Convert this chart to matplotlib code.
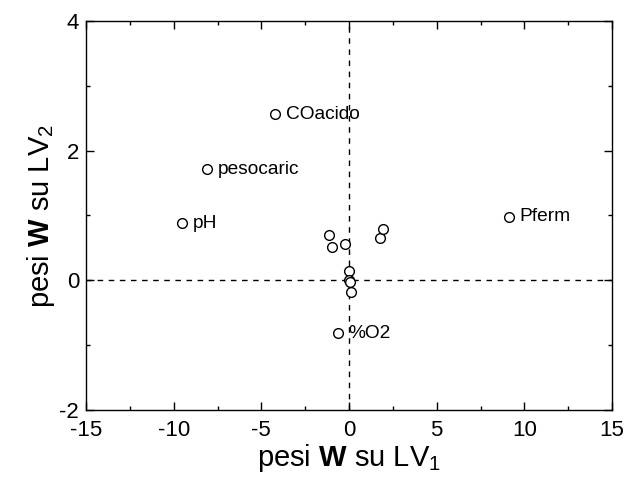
import matplotlib
matplotlib.use("Agg")
import matplotlib.pyplot as plt

plt.rcParams["font.family"] = "Liberation Sans"
plt.rcParams["mathtext.fontset"] = "custom"
plt.rcParams["mathtext.rm"] = "Liberation Sans"
plt.rcParams["mathtext.bf"] = "Liberation Sans:bold"
plt.rcParams["axes.unicode_minus"] = False

# loadings on LV1 / LV2
w1 = [-4.2, -8.1, -9.55, 9.1, -0.65, -1.15, -0.95, -0.25, 1.75, 1.95, 0.0, 0.0, 0.05, 0.1]
w2 = [2.56, 1.71, 0.88, 0.98, -0.82, 0.70, 0.51, 0.56, 0.66, 0.79, 0.15, 0.0, -0.03, -0.18]
names = ["COacido", "pesocaric", "pH", "Pferm", "%O2", "", "", "", "", "", "", "", "", ""]

fig = plt.figure(figsize=(6.25, 4.86), dpi=100)
ax = fig.add_axes([0.1376, 0.1564, 0.8416, 0.8004])

ax.axhline(0, color="black", ls=(0, (4, 4)), lw=1, zorder=1)
ax.axvline(0, color="black", ls=(0, (4, 4)), lw=1, zorder=1)
ax.plot(w1, w2, "o", ms=7, mfc="white", mec="black", mew=1, zorder=3)

for x, y, n in zip(w1, w2, names):
    if n:
        ax.annotate(n, (x, y), xytext=(8, 0), textcoords="offset points",
                    va="center", ha="left", fontsize=13.8)

ax.set_xlim(-15, 15)
ax.set_ylim(-2, 4)
ax.set_xticks([-15, -10, -5, 0, 5, 10, 15])
ax.set_xticks([-12.5, -7.5, -2.5, 2.5, 7.5, 12.5], minor=True)
ax.set_yticks([-2, 0, 2, 4])
ax.set_yticks([-1, 1, 3], minor=True)
ax.tick_params(which="both", direction="in", top=True, right=True, labelsize=16, width=1)
ax.tick_params(which="major", length=6)
ax.tick_params(which="minor", length=3)
ax.tick_params(axis="x", pad=7)
ax.tick_params(axis="y", pad=5)
for s in ax.spines.values():
    s.set_linewidth(1)

ax.set_xlabel(r"pesi $\mathbf{W}$ su LV$_1$", fontsize=21, labelpad=1)
ax.set_ylabel(r"pesi $\mathbf{W}$ su LV$_2$", fontsize=21, labelpad=2)

fig.savefig("out.png", dpi=100)
